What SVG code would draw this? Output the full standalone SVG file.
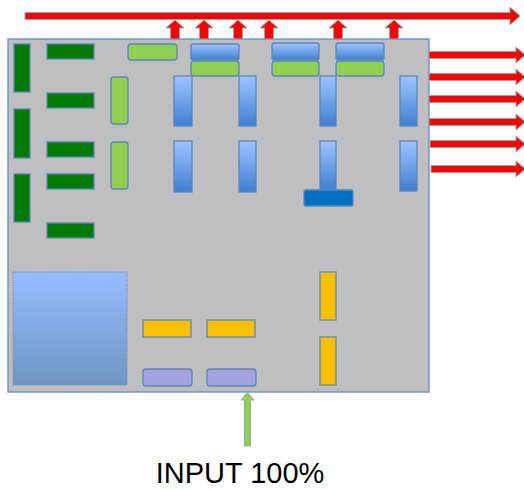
<svg xmlns="http://www.w3.org/2000/svg" width="524" height="490" viewBox="0 0 524 490">
<defs>
<linearGradient id="gb" x1="0" y1="0" x2="0" y2="1"><stop offset="0" stop-color="#A0C4FF"/><stop offset="1" stop-color="#3F7FD0"/></linearGradient>
<linearGradient id="gsq" x1="0" y1="0" x2="0" y2="1"><stop offset="0" stop-color="#98BDFF"/><stop offset="1" stop-color="#7096C4"/></linearGradient>
<style>
.box{stroke:#5A86C0;stroke-width:1.3}
.dg{fill:#007A00}
.lg{fill:#92D050}
.bl{fill:url(#gb)}
.or{fill:#FFC000}
.pu{fill:#A3A3DE}
.db{fill:#0070C0}
.red{fill:#FF0000;stroke:#8FAAAA;stroke-width:1}
</style>
</defs>
<g id="board"><rect x="8" y="39" width="421" height="353" fill="#BFBFBF" stroke="#5B8FD0" stroke-width="1.3"/></g>
<g id="dg-v1"><rect class="box dg" x="14" y="44" width="16" height="48"/></g>
<g id="dg-v2"><rect class="box dg" x="14" y="109" width="16" height="49"/></g>
<g id="dg-v3"><rect class="box dg" x="14" y="174" width="16" height="48"/></g>
<g id="dg-h1"><rect class="box dg" x="47" y="44" width="47" height="15"/></g>
<g id="dg-h2"><rect class="box dg" x="47" y="93" width="47" height="15"/></g>
<g id="dg-h3"><rect class="box dg" x="47" y="142" width="47" height="15"/></g>
<g id="dg-h4"><rect class="box dg" x="47" y="174" width="47" height="15"/></g>
<g id="dg-h5"><rect class="box dg" x="47" y="223" width="47" height="15"/></g>
<g id="lg-v1"><rect class="box lg" x="111" y="77" width="17" height="47" rx="3"/></g>
<g id="lg-v2"><rect class="box lg" x="111" y="142" width="17" height="47" rx="3"/></g>
<g id="lg-h1"><rect class="box lg" x="128" y="44" width="49" height="16" rx="3"/></g>
<g id="bl-h1"><rect class="box bl" x="191" y="44" width="48" height="16" rx="2"/></g>
<g id="lg-h2"><rect class="box lg" x="191" y="61" width="48" height="15" rx="3"/></g>
<g id="bl-h2"><rect class="box bl" x="272" y="43" width="47" height="17" rx="2"/></g>
<g id="lg-h3"><rect class="box lg" x="272" y="61" width="47" height="15" rx="3"/></g>
<g id="bl-h3"><rect class="box bl" x="336" y="43" width="48" height="17" rx="2"/></g>
<g id="lg-h4"><rect class="box lg" x="336" y="61" width="48" height="15" rx="3"/></g>
<g id="bl-v1"><rect class="box bl" x="174" y="76" width="18" height="50"/></g>
<g id="bl-v2"><rect class="box bl" x="174" y="141" width="18" height="51"/></g>
<g id="bl-v3"><rect class="box bl" x="239" y="76" width="17" height="50"/></g>
<g id="bl-v4"><rect class="box bl" x="239" y="141" width="17" height="51"/></g>
<g id="bl-v5"><rect class="box bl" x="320" y="76" width="16" height="50"/></g>
<g id="bl-v6"><rect class="box bl" x="320" y="141" width="16" height="49"/></g>
<g id="bl-v7"><rect class="box bl" x="400" y="76" width="17" height="50"/></g>
<g id="bl-v8"><rect class="box bl" x="400" y="141" width="17" height="50"/></g>
<g id="db-h"><rect class="box db" x="304" y="190" width="49" height="16" rx="2"/></g>
<g id="square"><rect x="13" y="272" width="114" height="113" fill="url(#gsq)" stroke="#6A8CC0" stroke-width="1" stroke-dasharray="1.5 1"/></g>
<g id="or-h1"><rect class="box or" x="143" y="320" width="48" height="17"/></g>
<g id="or-h2"><rect class="box or" x="207" y="320" width="48" height="17"/></g>
<g id="or-v1"><rect class="box or" x="320" y="272" width="16" height="48"/></g>
<g id="or-v2"><rect class="box or" x="320" y="337" width="16" height="48"/></g>
<g id="pu-h1"><rect class="box pu" x="143" y="369" width="49" height="17" rx="3"/></g>
<g id="pu-h2"><rect class="box pu" x="207" y="369" width="49" height="17" rx="3"/></g>
<g id="connectors">
<polygon class="red" points="25,12.5 510,12.5 510,7 520,16 510,25 510,19.5 25,19.5"/>
<g id="up-arrows">
<polygon class="red" points="170.5,39 170.5,28 166,28 175,20 184,28 179.5,28 179.5,39"/>
<polygon class="red" points="199.5,39 199.5,28 195,28 204,20 213,28 208.5,28 208.5,39"/>
<polygon class="red" points="233.5,39 233.5,28 229,28 238,20 247,28 242.5,28 242.5,39"/>
<polygon class="red" points="264.5,39 264.5,28 260,28 269,20 278,28 273.5,28 273.5,39"/>
<polygon class="red" points="333.5,39 333.5,28 329,28 338,20 347,28 342.5,28 342.5,39"/>
<polygon class="red" points="389.5,39 389.5,28 385,28 394,20 403,28 398.5,28 398.5,39"/>
</g>
<g id="right-arrows">
<polygon class="red" points="429,51.5 516,51.5 516,47 525,55 516,63 516,58.5 429,58.5"/>
<polygon class="red" points="429,73.5 516,73.5 516,69 525,77 516,85 516,80.5 429,80.5"/>
<polygon class="red" points="429,95.5 516,95.5 516,91 525,99 516,107 516,102.5 429,102.5"/>
<polygon class="red" points="429,118.5 516,118.5 516,114 525,122 516,130 516,125.5 429,125.5"/>
<polygon class="red" points="430,140.5 516,140.5 516,136 525,144 516,152 516,147.5 430,147.5"/>
<polygon class="red" points="431,165.5 516,165.5 516,161 525,169 516,177 516,172.5 431,172.5"/>
</g>
<polygon fill="#92D050" stroke="#8FAAAA" stroke-width="1" points="244.5,446 244.5,400 241,400 247.5,392.5 254,400 250.5,400 250.5,446"/>
</g>
<text x="240" y="483" text-anchor="middle" font-family="'Liberation Sans', Arial, sans-serif" font-size="29" fill="#000">INPUT 100%</text>
</svg>
